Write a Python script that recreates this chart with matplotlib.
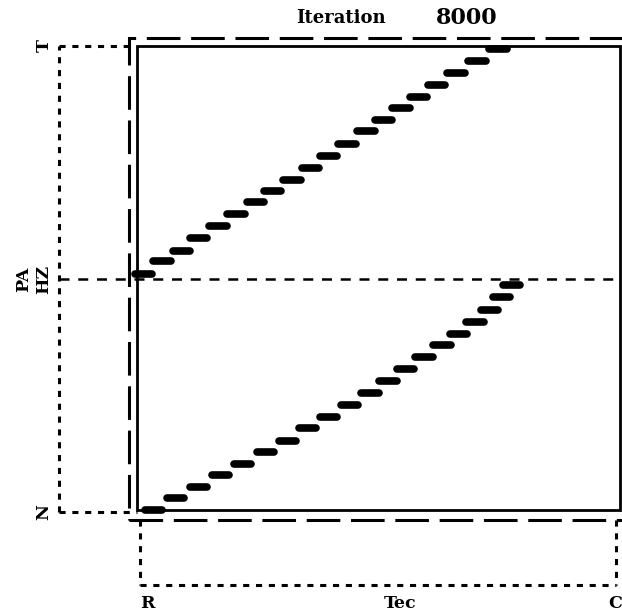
import matplotlib.pyplot as plt
from matplotlib.patches import Rectangle

# state traces after 8000 iterations (x: R..C along Tec, y: N..T)
upper_x = [0.008, 0.046, 0.086, 0.123, 0.163, 0.201, 0.241, 0.278, 0.318, 0.356,
           0.395, 0.433, 0.473, 0.510, 0.546, 0.582, 0.621, 0.661, 0.705, 0.749]
upper_y = [0.511, 0.539, 0.560, 0.588, 0.614, 0.639, 0.665, 0.689, 0.712, 0.738,
           0.764, 0.790, 0.818, 0.841, 0.867, 0.891, 0.916, 0.942, 0.968, 0.994]

lower_x = [0.029, 0.075, 0.123, 0.169, 0.215, 0.262, 0.308, 0.351, 0.395, 0.439,
           0.481, 0.519, 0.556, 0.594, 0.632, 0.667, 0.701, 0.732, 0.757, 0.778]
lower_y = [0.004, 0.030, 0.054, 0.079, 0.103, 0.129, 0.152, 0.180, 0.204, 0.230,
           0.255, 0.281, 0.307, 0.333, 0.358, 0.382, 0.408, 0.433, 0.461, 0.487]

seg_half = 0.018

y_ticks = [0.0, 0.5, 1.0]
y_labels = ["N", "PA\nHZ", "T"]
x_labels = ["R", "Tec", "C"]
x_label_pos = [0.015, 0.545, 1.0084]
x_label_ha = ["center", "center", "right"]

fig = plt.figure(figsize=(6.22, 6.13), dpi=100)
ax = fig.add_axes([0, 0, 1, 1])
ax.set_xlim(-0.2929, 1.0084)
ax.set_ylim(-0.2167, 1.0987)
ax.axis("off")

font = dict(family="DejaVu Serif", fontweight="heavy", color="black")

# inner solid frame and outer dashed frame
ax.add_patch(Rectangle((-0.006, 0.004), 1.011, 0.996, fill=False, lw=2.0,
                       ec="black", zorder=2))
ax.add_patch(Rectangle((-0.023, -0.017), 1.1, 1.035, fill=False, lw=2.2,
                       ec="black", ls=(0, (11, 3.5)), zorder=2))

# dotted guides on the left
dot = dict(color="black", lw=2.2, ls=(0, (2, 2.2)))
ax.plot([-0.170, -0.170], [0.0, 1.0], **dot)
ax.plot([-0.170, -0.023], [1.0, 1.0], **dot)
ax.plot([-0.170, -0.006], [0.0, 0.0], **dot)
ax.plot([-0.170, 1.01], [0.5, 0.5], color="black", lw=1.8, ls=(0, (4, 3.5)))

# dotted guides below
ax.plot([0.0, 0.0], [-0.017, -0.157], **dot)
ax.plot([0.0, 0.996], [-0.157, -0.157], **dot)
ax.plot([0.996, 0.996], [-0.017, -0.157], **dot)

# traces drawn as short thick dashes
ax.hlines(upper_y, [x - seg_half for x in upper_x], [x + seg_half for x in upper_x],
          colors="black", lw=5.5, capstyle="round", zorder=3)
ax.hlines(lower_y, [x - seg_half for x in lower_x], [x + seg_half for x in lower_x],
          colors="black", lw=5.5, capstyle="round", zorder=3)

for yv, lab in zip(y_ticks, y_labels):
    xv = -0.222 if "\n" in lab else -0.201
    ax.text(xv, yv, lab, rotation=90, ha="center", va="center",
            fontsize=12.5, linespacing=1.25, **font)

for xv, lab, ha in zip(x_label_pos, x_labels, x_label_ha):
    ax.text(xv, -0.197, lab, ha=ha, va="center", fontsize=12.5, **font)

ax.text(0.420, 1.060, "Iteration", ha="center", va="center", fontsize=13, **font)
ax.text(0.683, 1.060, "8000", ha="center", va="center", fontsize=16, **font)

fig.savefig("out.png", dpi=100)
